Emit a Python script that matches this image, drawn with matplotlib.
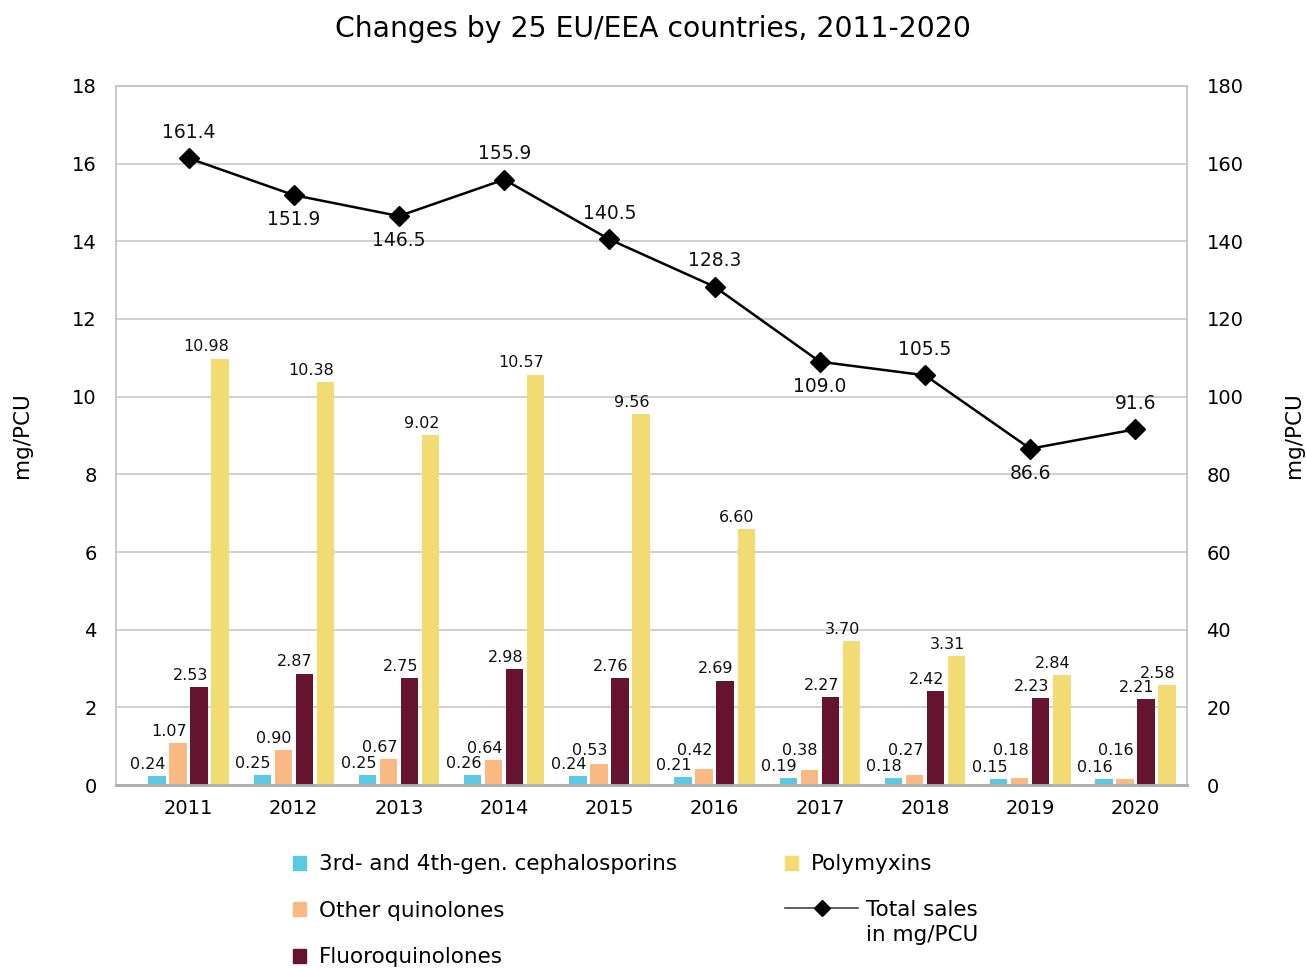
import numpy as np
import matplotlib
matplotlib.use("Agg")
import matplotlib.pyplot as plt
from matplotlib.patches import Patch
from matplotlib.lines import Line2D

plt.rcParams['font.family'] = ['DejaVu Sans']

years = ['2011', '2012', '2013', '2014', '2015', '2016', '2017', '2018', '2019', '2020']
cephalosporins = [0.24, 0.25, 0.25, 0.26, 0.24, 0.21, 0.19, 0.18, 0.15, 0.16]
other_quinolones = [1.07, 0.90, 0.67, 0.64, 0.53, 0.42, 0.38, 0.27, 0.18, 0.16]
fluoroquinolones = [2.53, 2.87, 2.75, 2.98, 2.76, 2.69, 2.27, 2.42, 2.23, 2.21]
polymyxins = [10.98, 10.38, 9.02, 10.57, 9.56, 6.60, 3.70, 3.31, 2.84, 2.58]
total_sales = [161.4, 151.9, 146.5, 155.9, 140.5, 128.3, 109.0, 105.5, 86.6, 91.6]
# which total-sales labels sit above (True) or below (False) the marker
label_above = [True, False, False, True, True, True, False, True, False, True]

series = [
    ('3rd- and 4th-gen. cephalosporins', cephalosporins, '#5bc9e1'),
    ('Other quinolones', other_quinolones, '#fab882'),
    ('Fluoroquinolones', fluoroquinolones, '#66132f'),
    ('Polymyxins', polymyxins, '#f3db73'),
]
# lowest anchor height for each series' value labels, keeps small ones apart
label_floor = [0.0, 0.6, 0.0, 0.0]

fig = plt.figure(figsize=(13.06, 9.68), dpi=100)
ax = fig.add_axes([0.0888, 0.189, 0.8201, 0.7222])
ax2 = ax.twinx()

x = np.arange(len(years))
width = 0.165
step = 0.2
for i, (name, vals, col) in enumerate(series):
    xs = x + (i - 1.5) * step
    ax.bar(xs, vals, width, color=col, label=name, zorder=3)
    for xi, v in zip(xs, vals):
        ax.annotate('%.2f' % v, (xi + width / 2, max(v, label_floor[i])),
                    xytext=(0, 3), textcoords='offset points',
                    ha='right', va='bottom', fontsize=11.5, color='#111111')

ax2.plot(x, total_sales, color='black', lw=1.8, marker='D', markersize=10, zorder=4)
for xi, v, up in zip(x, total_sales, label_above):
    off = 12 if up else -11
    ax2.annotate('%.1f' % v, (xi, v), xytext=(0, off), textcoords='offset points',
                 ha='center', va='bottom' if up else 'top', fontsize=13.5, color='#111111')

ax.set_xlim(-0.69, 9.49)
ax.set_ylim(0, 18)
ax2.set_ylim(0, 180)
ax.set_yticks(np.arange(0, 19, 2))
ax2.set_yticks(np.arange(0, 181, 20))
ax.set_xticks(x)
ax.set_xticklabels(years)

ax.grid(axis='y', color='#c8c8c8', lw=1.2, zorder=0)
ax.set_axisbelow(True)
for a in (ax, ax2):
    a.tick_params(length=0, labelsize=14)
    for s in ('left', 'right', 'top'):
        a.spines[s].set_color('#c8c8c8')
        a.spines[s].set_linewidth(1.2)
    a.spines['bottom'].set_color('#b0b0b0')
    a.spines['bottom'].set_linewidth(2)
ax.tick_params(axis='y', pad=14)
ax2.tick_params(axis='y', pad=14)
ax.tick_params(axis='x', pad=10)

ax.set_ylabel('mg/PCU', fontsize=15.5, labelpad=29)
ax2.set_ylabel('mg/PCU', fontsize=15.5, rotation=90, labelpad=29)

fig.suptitle('Changes by 25 EU/EEA countries, 2011-2020', fontsize=20.3, y=0.985)

# legend split in pieces so squares and the line get their own handle sizes
sq = dict(handlelength=0.62, handleheight=0.62, handletextpad=0.6, frameon=False,
          fontsize=15.5, labelspacing=1.23, borderpad=0, borderaxespad=0)
fig.legend([Patch(color=c) for _, _, c in series[:3]], [n for n, _, _ in series[:3]],
           loc='upper left', bbox_to_anchor=(0.2243, 0.1173), **sq)
fig.legend([Patch(color=series[3][2])], [series[3][0]],
           loc='upper left', bbox_to_anchor=(0.601, 0.1173), **sq)
fig.legend([Line2D([], [], color='#444444', lw=1.2, marker='D', markersize=8.5,
                   markerfacecolor='black', markeredgecolor='black'),
            Line2D([], [], color='none')],
           ['Total sales', 'in mg/PCU'], loc='upper left', bbox_to_anchor=(0.601, 0.0704),
           handlelength=3.4, handletextpad=0.37, frameon=False, fontsize=15.5,
           labelspacing=0.25, borderpad=0, borderaxespad=0)

fig.savefig('out.png', dpi=100)
